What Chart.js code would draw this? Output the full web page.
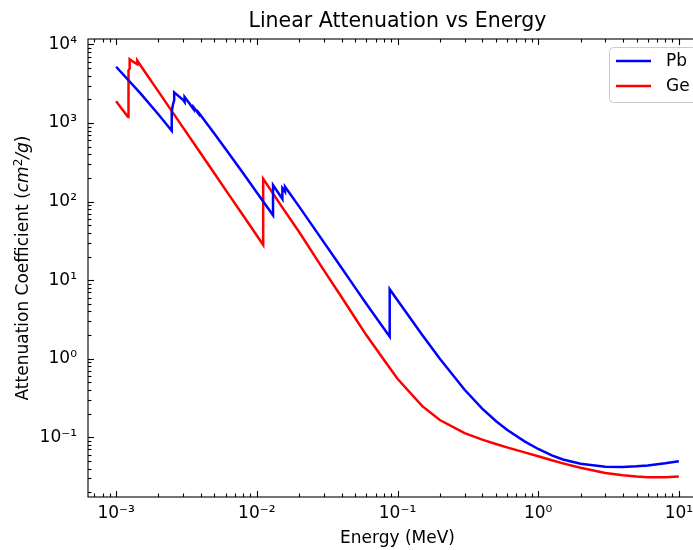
<!DOCTYPE html>
<html>
<head>
<meta charset="utf-8">
<script src="https://cdn.jsdelivr.net/npm/chart.js@4.4.0/dist/chart.umd.min.js"></script>
<style>
  html, body { margin: 0; padding: 0; background: #fff; overflow: hidden; }
  #wrap { width: 712px; height: 550px; }
</style>
</head>
<body>
<div id="wrap"><canvas id="chart" width="712" height="550"></canvas></div>
<script>
// --- Data: mass attenuation coefficient (cm^2/g) vs photon energy (MeV) ---
const pbEnergy = [
    1.000e-3, 1.500e-3, 2.000e-3, 2.484e-3, 2.484e-3, 2.534e-3, 2.586e-3, 2.586e-3,
    3.000e-3, 3.066e-3, 3.066e-3, 3.301e-3, 3.554e-3, 3.554e-3, 3.699e-3, 3.851e-3,
    3.851e-3, 4.000e-3, 5.000e-3, 6.000e-3, 8.000e-3, 1.000e-2, 1.304e-2, 1.304e-2,
    1.500e-2, 1.520e-2, 1.520e-2, 1.553e-2, 1.586e-2, 1.586e-2, 2.000e-2, 3.000e-2,
    4.000e-2, 5.000e-2, 6.000e-2, 8.000e-2, 8.800e-2, 8.800e-2, 0.100, 0.150,
    0.200, 0.300, 0.400, 0.500, 0.600, 0.800, 1.00, 1.25,
    1.50, 2.00, 3.00, 4.00, 5.00, 6.00, 8.00, 10.0
];
const pbCoeff = [
    5210, 2356, 1285, 800, 1397, 1726, 1944, 2458,
    1965, 1857, 2146, 1796, 1496, 1585, 1442, 1311,
    1368, 1251, 730, 467, 229, 131, 67, 162,
    112, 108, 149, 142, 134, 155, 86.4, 30.3,
    14.4, 8.04, 5.02, 2.42, 1.91, 7.68, 5.55, 2.01,
    0.999, 0.403, 0.232, 0.161, 0.125, 0.0887, 0.0710, 0.0588,
    0.0522, 0.0461, 0.0423, 0.0420, 0.0427, 0.0439, 0.0468, 0.0497
];
const geEnergy = [
    1.000e-3, 1.103e-3, 1.217e-3, 1.217e-3, 1.232e-3, 1.248e-3, 1.248e-3, 1.328e-3,
    1.414e-3, 1.414e-3, 1.500e-3, 2.000e-3, 3.000e-3, 4.000e-3, 5.000e-3, 6.000e-3,
    8.000e-3, 1.000e-2, 1.110e-2, 1.110e-2, 1.500e-2, 2.000e-2, 3.000e-2, 4.000e-2,
    5.000e-2, 6.000e-2, 8.000e-2, 0.100, 0.150, 0.200, 0.300, 0.400,
    0.500, 0.600, 0.800, 1.00, 1.25, 1.50, 2.00, 3.00,
    4.00, 5.00, 6.00, 8.00, 10.0
];
const geCoeff = [
    1893, 1502, 1190, 4389, 4700, 4980, 6490, 6000,
    5600, 6230, 5330, 2513, 869, 409, 228, 141,
    66.5, 37.1, 28.1, 194.6, 87, 41, 13.3, 6.1,
    3.3, 2.0, 0.97, 0.555, 0.249, 0.166, 0.113, 0.0933,
    0.0821, 0.0745, 0.0643, 0.0573, 0.0510, 0.0466, 0.0409, 0.0352,
    0.0328, 0.0316, 0.0311, 0.0311, 0.0317
];

const xTickValues = [1e-3, 1e-2, 1e-1, 1, 10];
const xTickLabels = ['10⁻³', '10⁻²', '10⁻¹', '10⁰', '10¹'];
const yTickValues = [1e-1, 1, 10, 100, 1000, 10000];
const yTickLabels = ['10⁻¹', '10⁰', '10¹', '10²', '10³', '10⁴'];

const FONT = 'DejaVu Sans';

function toPoints(xs, ys) {
    return xs.map((x, i) => ({ x: x, y: ys[i] }));
}

// minor tick values (2..9 x decade) within a range
function minorTicks(min, max) {
    const out = [];
    for (let e = Math.floor(Math.log10(min)); e <= Math.ceil(Math.log10(max)); e++) {
        for (let m = 2; m <= 9; m++) {
            const v = m * Math.pow(10, e);
            if (v >= min && v <= max) out.push(v);
        }
    }
    return out;
}

// --- Plugin: frame, inward ticks, titles, legend ---
const decorPlugin = {
    id: 'decor',
    afterDatasetsDraw(chart) {
        const ctx = chart.ctx;
        const { left, right, top, bottom } = chart.chartArea;
        const xs = chart.scales.x;
        const ys = chart.scales.y;
        ctx.save();
        ctx.strokeStyle = '#000';
        ctx.lineWidth = 1.1;
        ctx.strokeRect(left, top, right - left, bottom - top);

        const tick = (x1, y1, x2, y2) => {
            ctx.beginPath();
            ctx.moveTo(x1, y1);
            ctx.lineTo(x2, y2);
            ctx.stroke();
        };
        const majorLen = 6, minorLen = 3.5;
        xTickValues.forEach(v => {
            const px = Math.round(xs.getPixelForValue(v)) + 0.5;
            tick(px, bottom, px, bottom - majorLen);
            tick(px, top, px, top + majorLen);
        });
        minorTicks(xs.min, xs.max).forEach(v => {
            const px = Math.round(xs.getPixelForValue(v)) + 0.5;
            tick(px, bottom, px, bottom - minorLen);
            tick(px, top, px, top + minorLen);
        });
        yTickValues.forEach(v => {
            const py = Math.round(ys.getPixelForValue(v)) + 0.5;
            tick(left, py, left + majorLen, py);
            tick(right, py, right - majorLen, py);
        });
        minorTicks(ys.min, ys.max).forEach(v => {
            const py = Math.round(ys.getPixelForValue(v)) + 0.5;
            tick(left, py, left + minorLen, py);
            tick(right, py, right - minorLen, py);
        });
        ctx.restore();
    },
    afterDraw(chart) {
        const ctx = chart.ctx;
        const { left, right, top, bottom } = chart.chartArea;
        const cx = (left + right) / 2;
        ctx.save();
        ctx.fillStyle = '#000';

        // main title
        ctx.font = `20.5px "${FONT}"`;
        ctx.textAlign = 'center';
        ctx.textBaseline = 'alphabetic';
        ctx.fillText('Linear Attenuation vs Energy', cx, 27);

        // x axis title
        ctx.font = `17px "${FONT}"`;
        ctx.fillText('Energy (MeV)', cx, 543);

        // y axis title with italic unit
        const parts = [
            { t: 'Attenuation Coefficient (', f: `17px "${FONT}"`, dy: 0 },
            { t: 'cm', f: `italic 17px "${FONT}"`, dy: 0 },
            { t: '2', f: `12px "${FONT}"`, dy: -6.5 },
            { t: '/g', f: `italic 17px "${FONT}"`, dy: 0 },
            { t: ')', f: `17px "${FONT}"`, dy: 0 }
        ];
        let total = 0;
        parts.forEach(p => { ctx.font = p.f; p.w = ctx.measureText(p.t).width; total += p.w; });
        ctx.translate(28, (top + bottom) / 2);
        ctx.rotate(-Math.PI / 2);
        ctx.textAlign = 'left';
        let xpos = -total / 2;
        parts.forEach(p => {
            ctx.font = p.f;
            ctx.fillText(p.t, xpos, p.dy);
            xpos += p.w;
        });
        ctx.restore();

        // legend (upper right, inside axes)
        ctx.save();
        const bx = 609.5, by = 47.5, bw = 92, bh = 55, r = 4;
        ctx.beginPath();
        ctx.moveTo(bx + r, by);
        ctx.lineTo(bx + bw - r, by);
        ctx.arcTo(bx + bw, by, bx + bw, by + r, r);
        ctx.lineTo(bx + bw, by + bh - r);
        ctx.arcTo(bx + bw, by + bh, bx + bw - r, by + bh, r);
        ctx.lineTo(bx + r, by + bh);
        ctx.arcTo(bx, by + bh, bx, by + bh - r, r);
        ctx.lineTo(bx, by + r);
        ctx.arcTo(bx, by, bx + r, by, r);
        ctx.closePath();
        ctx.fillStyle = 'rgba(255,255,255,0.8)';
        ctx.fill();
        ctx.strokeStyle = '#cccccc';
        ctx.lineWidth = 1;
        ctx.stroke();
        ctx.font = `17px "${FONT}"`;
        ctx.textAlign = 'left';
        ctx.textBaseline = 'middle';
        chart.data.datasets.forEach((ds, i) => {
            const ly = 61 + i * 25;
            ctx.strokeStyle = ds.borderColor;
            ctx.lineWidth = ds.borderWidth;
            ctx.beginPath();
            ctx.moveTo(616, ly);
            ctx.lineTo(651, ly);
            ctx.stroke();
            ctx.fillStyle = '#000';
            ctx.fillText(ds.label, 666, ly + 1);
        });
        ctx.restore();
    }
};

const tickFont = { family: FONT, size: 17 };

new Chart(document.getElementById('chart'), {
    type: 'line',
    data: {
        datasets: [
            {
                label: 'Pb',
                data: toPoints(pbEnergy, pbCoeff),
                borderColor: '#0000ff',
                borderWidth: 2.5,
                pointRadius: 0,
                tension: 0,
                fill: false
            },
            {
                label: 'Ge',
                data: toPoints(geEnergy, geCoeff),
                borderColor: '#ff0000',
                borderWidth: 2.5,
                pointRadius: 0,
                tension: 0,
                fill: false
            }
        ]
    },
    options: {
        responsive: false,
        animation: false,
        devicePixelRatio: 1,
        layout: { padding: { left: 0, right: 5, top: 39, bottom: 0 } },
        plugins: {
            legend: { display: false },
            title: { display: false },
            tooltip: { enabled: false }
        },
        scales: {
            x: {
                type: 'logarithmic',
                bounds: 'data',
                min: Math.pow(10, -3.2),
                max: Math.pow(10, 1.2),
                grid: { display: false },
                border: { display: false },
                afterBuildTicks: scale => { scale.ticks = xTickValues.map(v => ({ value: v })); },
                afterFit: scale => { scale.height = 53; },
                ticks: {
                    autoSkip: false,
                    maxRotation: 0,
                    padding: -2,
                    color: '#000',
                    font: tickFont,
                    callback: (value, index) => xTickLabels[index]
                }
            },
            y: {
                type: 'logarithmic',
                bounds: 'data',
                min: Math.pow(10, -1.76),
                max: Math.pow(10, 4.07),
                grid: { display: false },
                border: { display: false },
                afterBuildTicks: scale => { scale.ticks = yTickValues.map(v => ({ value: v })); },
                afterFit: scale => { scale.width = 88; },
                ticks: {
                    autoSkip: false,
                    padding: 3,
                    color: '#000',
                    font: tickFont,
                    callback: (value, index) => yTickLabels[index]
                }
            }
        }
    },
    plugins: [decorPlugin]
});
</script>
</body>
</html>
